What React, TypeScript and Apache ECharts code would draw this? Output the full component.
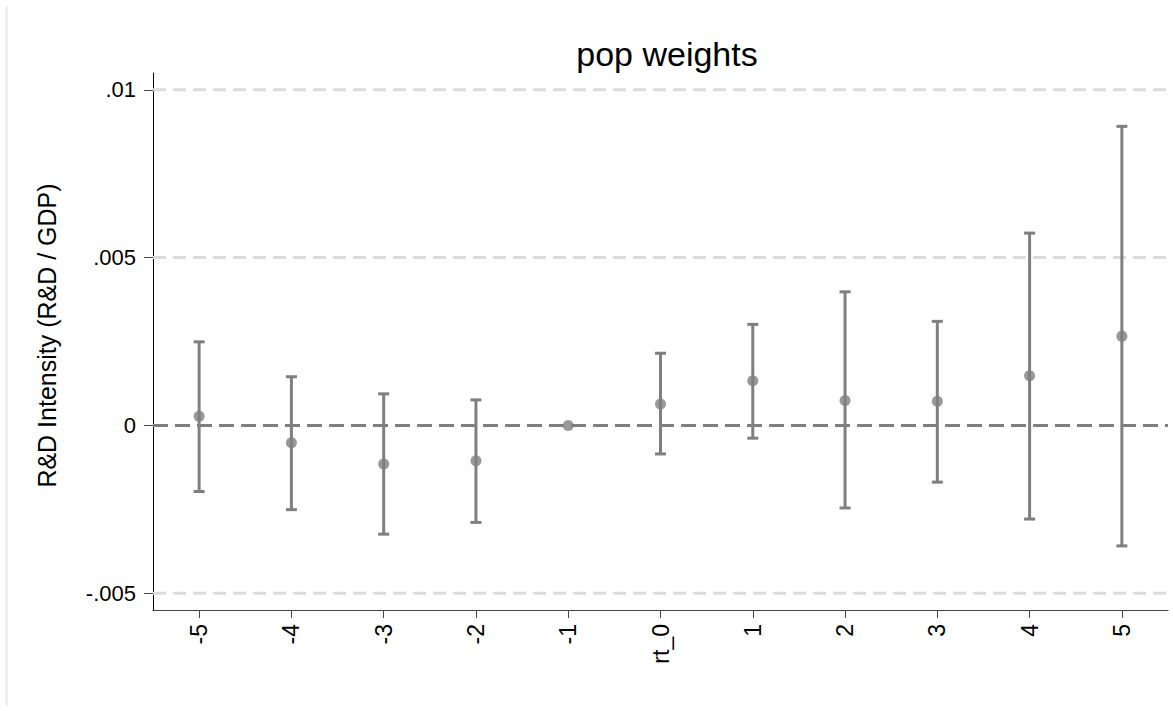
import React, { useEffect, useRef } from "react";
import * as echarts from "echarts";

const categories = ["-5", "-4", "-3", "-2", "-1", "rt_0", "1", "2", "3", "4", "5"];
const estimates = [0.00027, -0.00052, -0.00115, -0.00105, 0, 0.00064, 0.00133, 0.00074, 0.00072, 0.00148, 0.00266];
const lowerCI = [-0.00197, -0.00251, -0.00324, -0.00289, 0, -0.00085, -0.00038, -0.00246, -0.00169, -0.00279, -0.00359];
const upperCI = [0.00249, 0.00145, 0.00094, 0.00076, 0, 0.00215, 0.00301, 0.00398, 0.0031, 0.00573, 0.00891];
const yTicks = [-0.005, 0, 0.005, 0.01];
const gridValues = [-0.005, 0.005, 0.01];
const referenceValues = [0];

const fmt = (v: number) => {
  if (Math.abs(v) < 1e-12) return "0";
  const s = String(parseFloat(v.toFixed(4)));
  return s.replace(/^(-?)0\./, "$1.");
};

const GRAY = "#7f7f7f";
const FONT = "'Liberation Sans', Arial, Helvetica, sans-serif";

const hLineRenderer = (color: string, width: number, dash: number[]) =>
  (params: any, api: any) => {
    const cs = params.coordSys;
    const y = api.coord([0, api.value(1)])[1];
    return {
      type: "line",
      shape: { x1: cs.x, y1: y, x2: cs.x + cs.width, y2: y },
      style: { stroke: color, lineWidth: width, lineDash: dash },
      silent: true,
    };
  };

export default function App() {
  const ref = useRef<HTMLDivElement>(null);
  useEffect(() => {
    if (!ref.current) return;
    const chart = echarts.init(ref.current, undefined, { renderer: "svg" });
    const ciData = categories
      .map((_, i) => (lowerCI[i] === upperCI[i] ? null : [i, lowerCI[i], upperCI[i]]))
      .filter((d) => d !== null);
    chart.setOption({
      animation: false,
      backgroundColor: "#ffffff",
      textStyle: { fontFamily: FONT },
      title: {
        text: "pop weights",
        left: 662,
        textAlign: "center",
        top: 32,
        textStyle: { fontFamily: FONT, fontSize: 34, fontWeight: "normal", color: "#000" },
      },
      graphic: [
        { type: "rect", shape: { x: 5, y: 6, width: 3, height: 700 }, style: { fill: "#f0f0f0" }, silent: true },
      ],
      grid: { left: 153, right: 5, top: 73, bottom: 101 },
      xAxis: {
        type: "category",
        data: categories,
        boundaryGap: true,
        axisLine: { show: true, onZero: false, lineStyle: { color: "#444", width: 1 } },
        axisTick: { show: true, alignWithLabel: true, length: 8, lineStyle: { color: "#444" } },
        axisLabel: { rotate: 90, fontSize: 23, color: "#000", margin: 14, fontFamily: FONT },
        splitLine: { show: false },
      },
      yAxis: {
        type: "value",
        min: -0.0055,
        max: 0.0105,
        name: "R&D Intensity (R&D / GDP)",
        nameLocation: "middle",
        nameGap: 94,
        nameRotate: 90,
        nameTextStyle: { fontSize: 25, color: "#000", fontFamily: FONT, padding: [0, 0, 0, 12] },
        axisLine: { show: true, onZero: false, lineStyle: { color: "#000", width: 1 } },
        axisTick: { show: true, length: 9, customValues: yTicks, lineStyle: { color: "#444" } },
        axisLabel: {
          fontSize: 22,
          color: "#000",
          margin: 17,
          fontFamily: FONT,
          customValues: yTicks,
          formatter: (v: number) => fmt(v),
        },
        splitLine: { show: false },
      },
      series: [
        {
          type: "custom",
          z: 1,
          silent: true,
          data: gridValues.map((v) => [0, v]),
          encode: { x: 0, y: 1 },
          renderItem: hLineRenderer("#dcdcdc", 3, [13, 7]),
        },
        {
          type: "custom",
          z: 3,
          silent: true,
          data: referenceValues.map((v) => [0, v]),
          encode: { x: 0, y: 1 },
          renderItem: hLineRenderer(GRAY, 3, [15, 7]),
        },
        {
          type: "custom",
          z: 4,
          data: ciData,
          encode: { x: 0, y: [1, 2] },
          renderItem: (params: any, api: any) => {
            const x = api.value(0);
            const lo = api.coord([x, api.value(1)]);
            const hi = api.coord([x, api.value(2)]);
            const hw = 5.5;
            const style = { stroke: GRAY, lineWidth: 3 };
            return {
              type: "group",
              children: [
                { type: "line", shape: { x1: lo[0], y1: lo[1], x2: hi[0], y2: hi[1] }, style },
                { type: "line", shape: { x1: lo[0] - hw, y1: lo[1], x2: lo[0] + hw, y2: lo[1] }, style },
                { type: "line", shape: { x1: hi[0] - hw, y1: hi[1], x2: hi[0] + hw, y2: hi[1] }, style },
              ],
            };
          },
        },
        {
          type: "scatter",
          z: 5,
          data: estimates.map((v, i) => [i, v]),
          symbol: "circle",
          symbolSize: 11,
          itemStyle: { color: GRAY },
        },
      ],
    });
    return () => chart.dispose();
  }, []);
  return (
    <div
      ref={ref}
      style={{ position: "fixed", left: 0, top: 0, width: 1173, height: 711 }}
    />
  );
}
